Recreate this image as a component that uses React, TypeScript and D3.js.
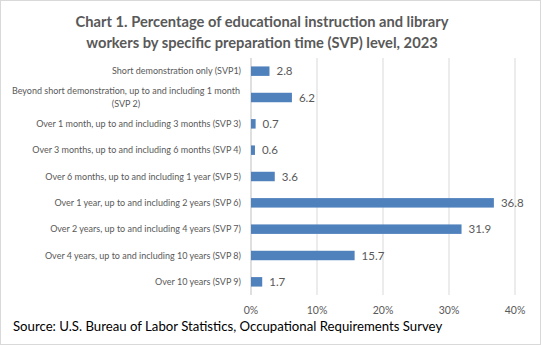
import React from "react";
import * as d3 from "d3";

const categories: string[][] = [
  ["Short demonstration only (SVP1)"],
  ["Beyond short demonstration, up to and including 1 month", "(SVP 2)"],
  ["Over 1 month, up to and including 3 months (SVP 3)"],
  ["Over 3 months, up to and including 6 months (SVP 4)"],
  ["Over 6 months, up to and including 1 year (SVP 5)"],
  ["Over 1 year, up to and including 2 years (SVP 6)"],
  ["Over 2 years, up to and including 4 years (SVP 7)"],
  ["Over 4 years, up to and including 10 years (SVP 8)"],
  ["Over 10 years (SVP 9)"],
];
const values: number[] = [2.8, 6.2, 0.7, 0.6, 3.6, 36.8, 31.9, 15.7, 1.7];
const ticks: number[] = [0, 10, 20, 30, 40];
const titleLines = [
  "Chart 1. Percentage of educational instruction and library",
  "workers by specific preparation time (SVP) level, 2023",
];
const source = "Source: U.S. Bureau of Labor Statistics, Occupational Requirements Survey";

const W = 541;
const H = 345;
const FONT = "Lato, 'Open Sans', sans-serif";
const TEXT = "#595959";

export default function App() {
  const x = d3.scaleLinear().domain([0, 40]).range([251, 515]);
  const ids = categories.map((_, i) => String(i));
  const y = d3.scaleBand().domain(ids).range([58, 295]).paddingInner(0.64).paddingOuter(0.32);

  return (
    <div style={{ position: "absolute", left: 0, top: 0 }}>
      <svg width={W} height={H} style={{ display: "block" }}>
        <rect x={0.5} y={0.5} width={W - 1} height={H - 1} fill="#fff" stroke="#d9d9d9" />
        {titleLines.map((t, i) => (
          <text key={i} x={262} y={27 + i * 21} textAnchor="middle" fontFamily={FONT} fontWeight="bold" fontSize={14.7} fill={TEXT}>
            {t}
          </text>
        ))}
        {ticks.map((t) => (
          <g key={t}>
            <line x1={x(t)} x2={x(t)} y1={58} y2={295} stroke={t === 0 ? "#bfbfbf" : "#d9d9d9"} strokeWidth={1} />
            <text x={x(t)} y={314} textAnchor="middle" fontFamily={FONT} fontSize={10.5} fill={TEXT}>
              {t}%
            </text>
          </g>
        ))}
        {values.map((v, i) => {
          const yy = y(String(i))!;
          const bw = y.bandwidth();
          const cy = yy + bw / 2;
          const lines = categories[i];
          const multi = lines.length > 1;
          return (
            <g key={i}>
              <rect x={x(0)} y={yy} width={x(v) - x(0)} height={bw} fill="#4f81bd" />
              <text x={x(v) + 7} y={cy + 4} fontFamily={FONT} fontSize={11.5} fill={TEXT}>
                {v.toFixed(1)}
              </text>
              {lines.map((l, j) => (
                <text
                  key={j}
                  x={multi ? 126 : 241}
                  y={cy + 3.2 + (j - (lines.length - 1) / 2) * 12.7}
                  textAnchor={multi ? "middle" : "end"}
                  fontFamily={FONT}
                  fontSize={9}
                  fill={TEXT}
                >
                  {l}
                </text>
              ))}
            </g>
          );
        })}
        <text x={13} y={331} fontFamily={FONT} fontSize={13.2} fill="#000">
          {source}
        </text>
      </svg>
    </div>
  );
}
